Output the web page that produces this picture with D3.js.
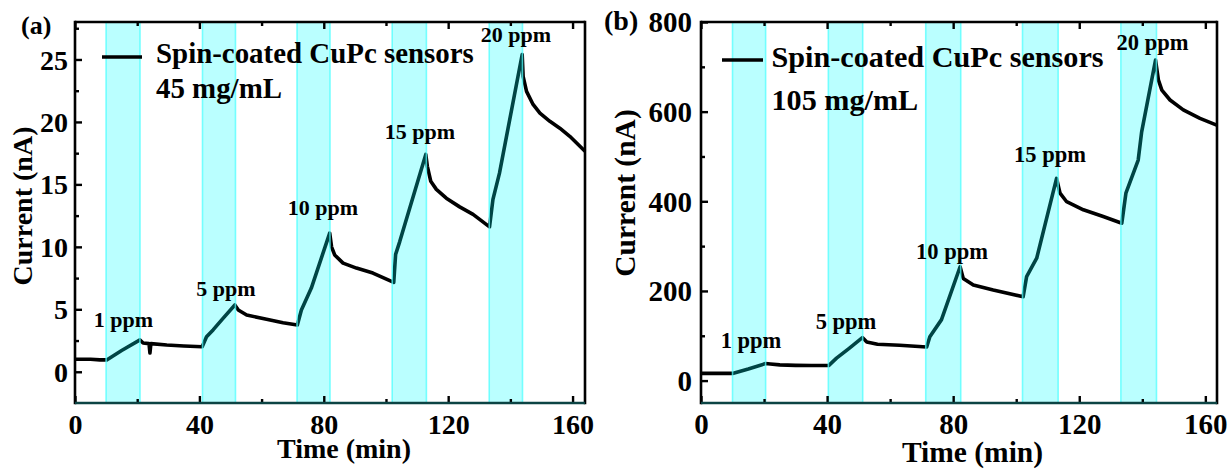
<!DOCTYPE html>
<html>
<head>
<meta charset="utf-8">
<script src="https://cdn.jsdelivr.net/npm/d3@7"></script>
<style>
  html, body { margin: 0; padding: 0; background: #fff; }
  svg { display: block; }
  text { font-family: "Liberation Serif", "Times New Roman", serif; font-weight: bold; fill: #000; }
</style>
</head>
<body>
<svg id="chart" width="1229" height="469"></svg>
<script>
// ---------- data ----------
const timeA = [0, 5, 8, 10.2, 15, 20.9, 21.9, 23.8, 24.1, 24.4, 29.5, 35, 40.9, 41.6, 42.3, 44.4, 47.6, 51.4, 52.5, 55.2, 61.6, 66.9, 71.5, 72.8, 76, 81.9, 82.5, 83.5, 86.2, 90.5, 95.8, 102.5, 103.1, 104.4, 112.8, 113.3, 114.4, 116.2, 119.4, 123.7, 128, 133.3, 134.4, 136.5, 143.8, 144.1, 145.2, 147.3, 149.5, 152.7, 155.9, 159.1, 164];
const currentA = [1.0, 1.0, 0.95, 0.95, 1.7, 2.55, 2.3, 2.25, 1.5, 2.25, 2.14, 2.06, 2.0, 2.4, 2.8, 3.35, 4.28, 5.35, 4.95, 4.55, 4.2, 3.93, 3.75, 4.95, 6.7, 11.1, 10.0, 9.35, 8.7, 8.3, 7.9, 7.15, 9.4, 10.4, 17.4, 16.45, 15.25, 14.6, 13.9, 13.2, 12.6, 11.6, 13.8, 15.9, 25.4, 23.65, 22.45, 21.4, 20.7, 20.05, 19.5, 18.85, 17.65];

const timeB = [0, 5, 10, 15, 20.5, 22, 25, 30, 35, 40.5, 43, 47, 51.2, 52.6, 56, 63, 71.6, 72.6, 76.3, 82.2, 83.2, 86.4, 92.7, 102.2, 103.3, 106.5, 112.8, 113.9, 116, 121.3, 127.6, 133.5, 134.8, 138.7, 139.8, 144.2, 145.1, 146.2, 148.8, 153, 158.3, 163.6];
const currentB = [16, 16, 16, 26, 38, 37, 35, 34, 33.5, 33.5, 50, 72, 96, 86, 81, 79, 75, 98, 136, 254, 228, 213, 202, 187, 232, 273, 451, 418, 399, 381, 366, 351, 418, 492, 555, 715, 671, 648, 626, 604, 585, 570];

const bandStartA = [10, 41, 71.4, 102, 133.2];
const bandEndA   = [20.9, 51.6, 82, 113, 143.9];
const bandStartB = [10, 40.4, 71.3, 102, 133.2];
const bandEndB   = [20.5, 51.3, 82.4, 113.3, 144.5];

const xMajorTicks = [0, 40, 80, 120, 160];
const xMinorTicks = [20, 60, 100, 140];
const yMajorTicksA = [0, 5, 10, 15, 20, 25];
const yMinorTicksA = [2.5, 7.5, 12.5, 17.5, 22.5, 27.5];
const yMajorTicksB = [0, 200, 400, 600, 800];
const yMinorTicksB = [100, 300, 500, 700];

const ppmLabels = ["1 ppm", "5 ppm", "10 ppm", "15 ppm", "20 ppm"];
const legendLineText = "Spin-coated CuPc sensors";
const concA = "45 mg/mL";
const concB = "105 mg/mL";
const xTitle = "Time (min)";
const yTitle = "Current (nA)";

// ---------- drawing ----------
const svg = d3.select("#chart");
const FONT = '"Liberation Serif", "Times New Roman", serif';

function panel(cfg) {
  const g = svg.append("g");
  const x = d3.scaleLinear().domain(cfg.xDomain).range([cfg.left, cfg.right]);
  const y = d3.scaleLinear().domain(cfg.yDomain).range([cfg.bottom, cfg.top]);

  // data line
  const pts = cfg.t.map((t, i) => [t, cfg.v[i]]);
  g.append("path")
    .datum(pts)
    .attr("fill", "none")
    .attr("stroke", "#000")
    .attr("stroke-width", 3.6)
    .attr("stroke-linejoin", "round")
    .attr("d", d3.line().x(d => x(d[0])).y(d => y(d[1])));

  // gas exposure bands (translucent cyan on top of the line)
  const bands = cfg.bs.map((s, i) => [s, cfg.be[i]]);
  g.selectAll("rect.band").data(bands).enter().append("rect")
    .attr("class", "band")
    .attr("x", d => x(d[0]))
    .attr("width", d => x(d[1]) - x(d[0]))
    .attr("y", cfg.top)
    .attr("height", cfg.bottom - cfg.top)
    .attr("fill", "rgba(0,255,255,0.27)")
    .attr("stroke", "rgba(80,255,255,0.75)")
    .attr("stroke-width", 1.6);

  function styleTicks(sel) {
    sel.select(".domain").remove();
    sel.selectAll(".tick line").attr("stroke", "#000").attr("stroke-width", 2.4);
  }

  // ticks (inward)
  const axB = g.append("g").attr("transform", `translate(0,${cfg.bottom})`)
    .call(d3.axisBottom(x).tickValues(xMajorTicks).tickSize(-7).tickFormat(d3.format("d")));
  styleTicks(axB);
  axB.selectAll(".tick text").attr("font-size", cfg.tickFont).attr("fill", "#000")
    .attr("font-family", FONT).attr("font-weight", "bold")
    .attr("y", 434 - cfg.bottom).attr("dy", null);
  styleTicks(g.append("g").attr("transform", `translate(0,${cfg.bottom})`)
    .call(d3.axisBottom(x).tickValues(xMinorTicks).tickSize(-4).tickFormat("")));
  styleTicks(g.append("g").attr("transform", `translate(0,${cfg.top})`)
    .call(d3.axisTop(x).tickValues(xMajorTicks).tickSize(-7).tickFormat("")));
  styleTicks(g.append("g").attr("transform", `translate(0,${cfg.top})`)
    .call(d3.axisTop(x).tickValues(xMinorTicks).tickSize(-4).tickFormat("")));

  const axL = g.append("g").attr("transform", `translate(${cfg.left},0)`)
    .call(d3.axisLeft(y).tickValues(cfg.yMajor).tickSize(-7).tickPadding(cfg.yPad).tickFormat(d3.format("d")));
  styleTicks(axL);
  axL.selectAll(".tick text").attr("font-size", cfg.tickFont).attr("fill", "#000")
    .attr("font-family", FONT).attr("font-weight", "bold")
    .attr("dy", "0.34em");
  styleTicks(g.append("g").attr("transform", `translate(${cfg.left},0)`)
    .call(d3.axisLeft(y).tickValues(cfg.yMinor).tickSize(-4).tickFormat("")));

  // frame
  g.append("line").attr("x1", cfg.left).attr("x2", cfg.right).attr("y1", cfg.top).attr("y2", cfg.top)
    .attr("stroke", "#000").attr("stroke-width", 2.6);
  g.append("line").attr("x1", cfg.left).attr("x2", cfg.left).attr("y1", cfg.top - 1.3).attr("y2", cfg.bottom + 1.3)
    .attr("stroke", "#000").attr("stroke-width", 2.6);
  g.append("line").attr("x1", cfg.right).attr("x2", cfg.right).attr("y1", cfg.top - 1.3).attr("y2", cfg.bottom + 1.3)
    .attr("stroke", "#000").attr("stroke-width", 2.6);
  g.append("line").attr("x1", cfg.left).attr("x2", cfg.right).attr("y1", cfg.bottom).attr("y2", cfg.bottom)
    .attr("stroke", "#0c4444").attr("stroke-width", 2.6);

  // ppm labels
  cfg.ppm.forEach((p, i) => {
    g.append("text").attr("x", p[0]).attr("y", p[1]).attr("text-anchor", "middle")
      .attr("font-size", cfg.ppmFont).text(ppmLabels[i]);
  });

  // legend
  g.append("line").attr("x1", cfg.leg.x1).attr("x2", cfg.leg.x2).attr("y1", cfg.leg.y).attr("y2", cfg.leg.y)
    .attr("stroke", "#000").attr("stroke-width", 3.6);
  g.append("text").attr("x", cfg.leg.tx).attr("y", cfg.leg.b1).attr("font-size", cfg.legFont).text(legendLineText);
  g.append("text").attr("x", cfg.leg.tx).attr("y", cfg.leg.b2).attr("font-size", cfg.legFont).text(cfg.conc);

  // axis titles
  g.append("text").attr("x", cfg.xt[0]).attr("y", cfg.xt[1]).attr("text-anchor", "middle")
    .attr("font-size", cfg.titleFont).text(xTitle);
  g.append("text").attr("transform", `translate(${cfg.yt[0]},${cfg.yt[1]}) rotate(-90)`)
    .attr("text-anchor", "middle").attr("font-size", cfg.titleFont).text(yTitle);

  // panel tag
  g.append("text").attr("x", cfg.tag[0]).attr("y", cfg.tag[1]).attr("font-size", cfg.tagFont).text(cfg.tagText);
}

panel({
  left: 75, right: 585, top: 22, bottom: 403,
  xDomain: [0, 164], yDomain: [-2.5, 28],
  t: timeA, v: currentA, bs: bandStartA, be: bandEndA,
  yMajor: yMajorTicksA, yMinor: yMinorTicksA, yPad: 7,
  tickFont: 28, ppmFont: 22, legFont: 28.9, titleFont: 28, tagFont: 26,
  ppm: [[123.5, 327], [226, 296], [323, 215], [420, 138.5], [516, 42]],
  leg: { x1: 102, x2: 142, y: 57, tx: 156, b1: 63, b2: 98 },
  conc: concA,
  xt: [344, 458], yt: [32, 206],
  tag: [21, 34], tagText: "(a)"
});

panel({
  left: 701, right: 1217, top: 22, bottom: 403,
  xDomain: [0, 163.7], yDomain: [-50, 800],
  t: timeB, v: currentB, bs: bandStartB, be: bandEndB,
  yMajor: yMajorTicksB, yMinor: yMinorTicksB, yPad: 9,
  tickFont: 29, ppmFont: 22.5, legFont: 30.2, titleFont: 29.5, tagFont: 28,
  ppm: [[751, 348], [846, 329], [952, 259], [1050, 161.5], [1152.5, 50]],
  leg: { x1: 722, x2: 763, y: 60, tx: 771.5, b1: 67, b2: 110 },
  conc: concB,
  xt: [972.5, 462], yt: [635, 193],
  tag: [604, 30], tagText: "(b)"
});
</script>
</body>
</html>
